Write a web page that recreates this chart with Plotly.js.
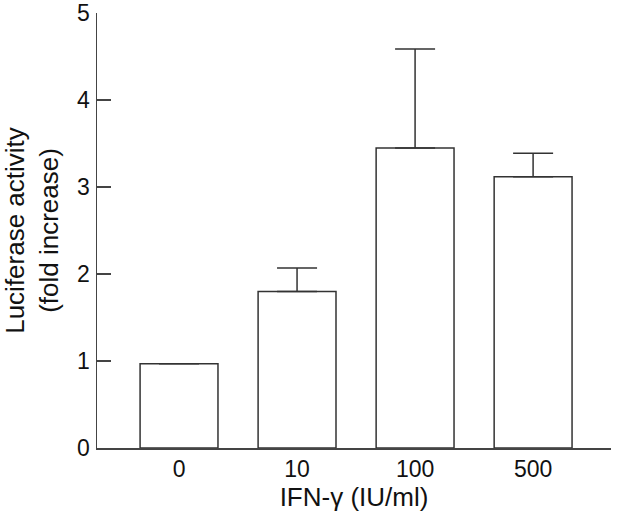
<!DOCTYPE html>
<html>
<head>
<meta charset="utf-8">
<script src="https://cdn.plot.ly/plotly-3.0.1.min.js"></script>
<style>body{margin:0;background:#fff}#chart{width:640px;height:515px}</style>
</head>
<body>
<div id="chart"></div>
<script>
// IFN-gamma dose vs luciferase fold increase
var doses = ["0", "10", "100", "500"];
var foldIncrease = [0.97, 1.80, 3.45, 3.12];
var sdUpper = [0, 0.27, 1.14, 0.27];
var noLower = [0, 0, 0, 0];
var yTicks = [0, 1, 2, 3, 4, 5];

var trace = {
    type: "bar",
    x: doses,
    y: foldIncrease,
    width: 0.66,
    marker: {color: "#ffffff", line: {color: "#333333", width: 1.5}},
    error_y: {
        type: "data",
        symmetric: false,
        array: sdUpper,
        arrayminus: noLower,
        color: "#333333",
        thickness: 1.5,
        width: 20
    },
    hoverinfo: "none"
};

var layout = {
    width: 640,
    height: 515,
    margin: {l: 97, r: 29, t: 13, b: 67},
    paper_bgcolor: "#ffffff",
    plot_bgcolor: "#ffffff",
    font: {family: "Liberation Sans, Arial, sans-serif", color: "#111111"},
    showlegend: false,
    xaxis: {
        type: "category",
        range: [-0.695, 3.66],
        showline: true,
        linecolor: "#444444",
        linewidth: 1.5,
        showgrid: false,
        zeroline: false,
        ticks: "",
        tickfont: {size: 23},
        title: {text: "IFN-γ (IU/ml)", font: {size: 26}, standoff: 5}
    },
    yaxis: {
        range: [0, 5.003],
        tickmode: "array",
        tickvals: yTicks,
        ticktext: yTicks.map(String),
        showline: true,
        linecolor: "#444444",
        linewidth: 1.5,
        showgrid: false,
        zeroline: false,
        ticks: "inside",
        ticklen: 14,
        tickwidth: 1.5,
        tickcolor: "#444444",
        tickfont: {size: 23},
        ticklabelstandoff: 1,
        ticklabeloverflow: "allow",
        title: {text: "Luciferase activity<br>(fold increase)", font: {size: 26}, standoff: 18}
    }
};

Plotly.newPlot("chart", [trace], layout, {staticPlot: true});
</script>
</body>
</html>
